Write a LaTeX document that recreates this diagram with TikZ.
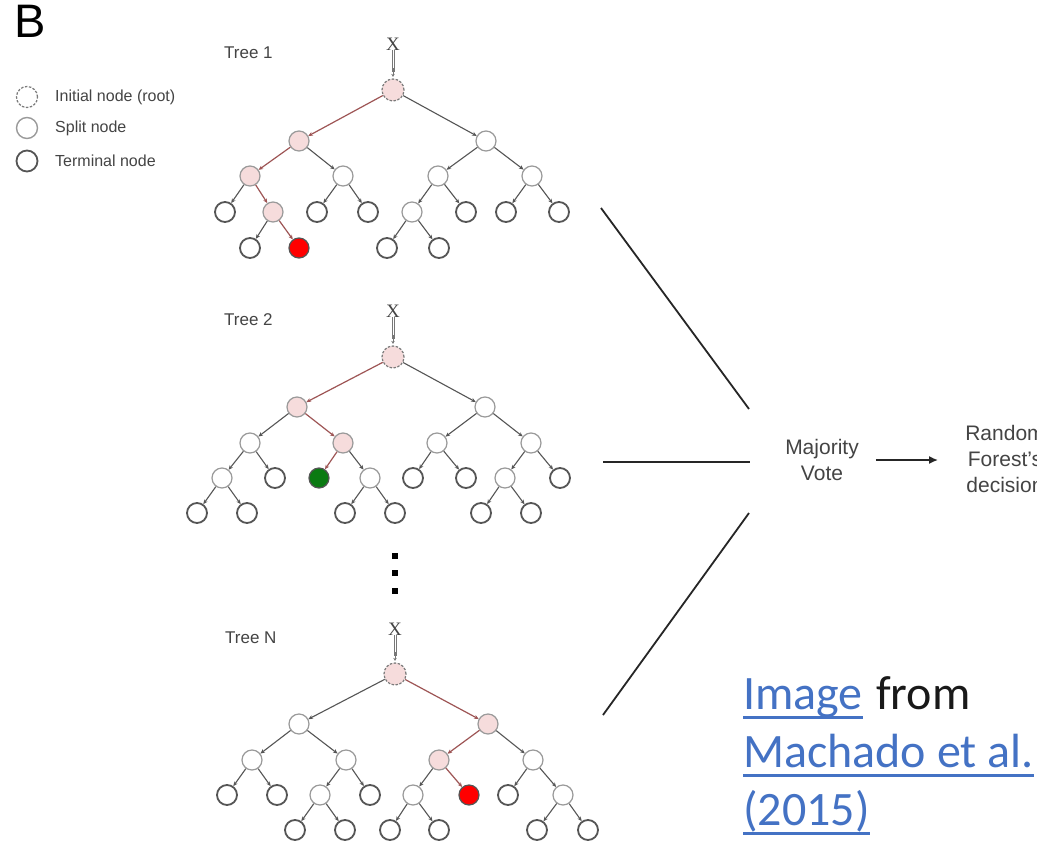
\documentclass[tikz,border=0pt]{standalone}
\usepackage{fontspec}
\setmainfont{Liberation Sans}
\newfontfamily\calib{Carlito}
\newfontfamily\serifx{Liberation Serif}
\usetikzlibrary{arrows.meta}
\definecolor{pinkc}{HTML}{F6DCDC}
\definecolor{termc}{HTML}{555555}
\definecolor{splitc}{HTML}{9A9A9A}
\definecolor{edgec}{HTML}{555555}
\definecolor{pathc}{HTML}{9E5555}
\definecolor{txtc}{HTML}{444444}
\definecolor{linkc}{HTML}{4472C4}
\definecolor{greenc}{HTML}{0B7A12}
\tikzset{
  nd/.style={circle, minimum size=20, inner sep=0, fill=white},
  term/.style={nd, draw=termc, line width=1.8},
  split/.style={nd, draw=splitc, line width=1.2},
  psplit/.style={split, fill=pinkc},
  rootn/.style={nd, minimum size=22, draw=splitc!80!black, dash pattern=on 2.5pt off 1.5pt, line width=1.2, fill=pinkc},
  redn/.style={nd, draw=termc, line width=1.2, fill=red},
  greenn/.style={nd, draw=termc, line width=1.2, fill=greenc},
  edge/.style={draw=edgec, line width=1.1, -{Stealth[length=4.5pt,width=4pt]}},
  pedge/.style={edge, draw=pathc, line width=1.2},
  xlab/.style={font=\serifx\fontsize{19}{19}\selectfont, text=txtc, inner sep=0},
  xarr/.style={draw=edgec!80, line width=0.6},
  xtip/.style={draw=edgec!80, line width=0.6, -{Stealth[length=3pt,width=3.5pt]}},
  treelab/.style={anchor=west, font=\fontsize{17}{17}\selectfont, text=txtc, inner sep=0},
  legtxt/.style={anchor=west, font=\fontsize{16}{16}\selectfont, text=txtc, inner sep=0},
  bigtxt/.style={font=\fontsize{21}{26}\selectfont, text=txtc, align=center, inner sep=0},
  credit/.style={anchor=base west, font=\calib\fontsize{48}{58}\selectfont, inner sep=0},
  uline/.style={draw=linkc, line width=3},
  vline/.style={draw=black!85, line width=1.8},
  dotsq/.style={rectangle, fill=black, minimum size=5.5, inner sep=0}
}
\newcommand\edg[2]{\draw[edge] (#1) -- (#2);}
\newcommand\pedg[2]{\draw[pedge] (#1) -- (#2);}
\newcommand\xarrow[2]{%
  \draw[xarr] ([xshift=-1.2]#1.south) -- ([xshift=-1.2,yshift=6]#2.north);
  \draw[xarr] ([xshift=1.2]#1.south) -- ([xshift=1.2,yshift=6]#2.north);
  \draw[xtip] ([yshift=10]#2.north) -- ([yshift=1.5]#2.north);}
\begin{document}
\begin{tikzpicture}[x=1pt,y=-1pt]
\clip (0,0) rectangle (1037,857);
\fill[white] (0,0) rectangle (1037,857);

% panel letter
\node[anchor=base west, font=\fontsize{47}{47}\selectfont, inner sep=0] (B) at (14,37) {B};

% legend
\node[rootn, fill=white, minimum size=21] (lg1) at (27,97) {};
\node[split, minimum size=21, line width=1.4] (lg2) at (27,128) {};
\node[term, minimum size=21] (lg3) at (27,161) {};
\node[legtxt] (lt1) at (55,97) {Initial node (root)};
\node[legtxt] (lt2) at (55,128) {Split node};
\node[legtxt] (lt3) at (55,161) {Terminal node};

% ================= Tree 1
\node[treelab] (T1) at (224,53) {Tree 1};
\node[xlab] (x1) at (393,44) {X};
\node[rootn] (t1r) at (393,90) {};
\node[psplit] (t1a) at (299,141) {};
\node[split] (t1b) at (486,141) {};
\node[psplit] (t1aa) at (250,176) {};
\node[split] (t1ab) at (343,176) {};
\node[split] (t1ba) at (438,176) {};
\node[split] (t1bb) at (532,176) {};
\node[term] (t1aaa) at (225,212) {};
\node[psplit] (t1aab) at (273,212) {};
\node[term] (t1aba) at (317,212) {};
\node[term] (t1abb) at (368,212) {};
\node[split] (t1baa) at (412,212) {};
\node[term] (t1bab) at (466,212) {};
\node[term] (t1bba) at (506,212) {};
\node[term] (t1bbb) at (559,212) {};
\node[term] (t1aaba) at (250,248) {};
\node[redn] (t1aabb) at (299,248) {};
\node[term] (t1baaa) at (387,248) {};
\node[term] (t1baab) at (439,248) {};
\xarrow{x1}{t1r}
\pedg{t1r}{t1a} \edg{t1r}{t1b}
\pedg{t1a}{t1aa} \edg{t1a}{t1ab}
\edg{t1b}{t1ba} \edg{t1b}{t1bb}
\edg{t1aa}{t1aaa} \pedg{t1aa}{t1aab}
\edg{t1ab}{t1aba} \edg{t1ab}{t1abb}
\edg{t1ba}{t1baa} \edg{t1ba}{t1bab}
\edg{t1bb}{t1bba} \edg{t1bb}{t1bbb}
\edg{t1aab}{t1aaba} \pedg{t1aab}{t1aabb}
\edg{t1baa}{t1baaa} \edg{t1baa}{t1baab}

% ================= Tree 2
\node[treelab] (T2) at (224,320) {Tree 2};
\node[xlab] (x2) at (393,311) {X};
\node[rootn] (t2r) at (393,357) {};
\node[psplit] (t2a) at (297,407) {};
\node[split] (t2b) at (485,407) {};
\node[split] (t2aa) at (250,443) {};
\node[psplit] (t2ab) at (343,443) {};
\node[split] (t2ba) at (437,443) {};
\node[split] (t2bb) at (531,443) {};
\node[split] (t2aaa) at (222,478) {};
\node[term] (t2aab) at (275,478) {};
\node[greenn] (t2aba) at (319,478) {};
\node[split] (t2abb) at (370,478) {};
\node[term] (t2baa) at (413,478) {};
\node[term] (t2bab) at (466,478) {};
\node[split] (t2bba) at (505,478) {};
\node[term] (t2bbb) at (560,478) {};
\node[term] (t2aaaa) at (197,513) {};
\node[term] (t2aaab) at (247,513) {};
\node[term] (t2abba) at (345,513) {};
\node[term] (t2abbb) at (395,513) {};
\node[term] (t2bbaa) at (481,513) {};
\node[term] (t2bbab) at (531,513) {};
\xarrow{x2}{t2r}
\pedg{t2r}{t2a} \edg{t2r}{t2b}
\edg{t2a}{t2aa} \pedg{t2a}{t2ab}
\edg{t2b}{t2ba} \edg{t2b}{t2bb}
\edg{t2aa}{t2aaa} \edg{t2aa}{t2aab}
\pedg{t2ab}{t2aba} \edg{t2ab}{t2abb}
\edg{t2ba}{t2baa} \edg{t2ba}{t2bab}
\edg{t2bb}{t2bba} \edg{t2bb}{t2bbb}
\edg{t2aaa}{t2aaaa} \edg{t2aaa}{t2aaab}
\edg{t2abb}{t2abba} \edg{t2abb}{t2abbb}
\edg{t2bba}{t2bbaa} \edg{t2bba}{t2bbab}

% dots
\node[dotsq] (d1) at (395,556) {};
\node[dotsq] (d2) at (395,573) {};
\node[dotsq] (d3) at (395,591) {};

% ================= Tree N
\node[treelab] (TN) at (225,638) {Tree N};
\node[xlab] (xN) at (395,629) {X};
\node[rootn] (tNr) at (395,674) {};
\node[split] (tNa) at (299,724) {};
\node[psplit] (tNb) at (488,724) {};
\node[split] (tNaa) at (252,760) {};
\node[split] (tNab) at (346,760) {};
\node[psplit] (tNba) at (439,760) {};
\node[split] (tNbb) at (533,760) {};
\node[term] (tNaaa) at (227,795) {};
\node[term] (tNaab) at (277,795) {};
\node[split] (tNaba) at (320,795) {};
\node[term] (tNabb) at (370,795) {};
\node[split] (tNbaa) at (413,795) {};
\node[redn] (tNbab) at (469,795) {};
\node[term] (tNbba) at (508,795) {};
\node[split] (tNbbb) at (563,795) {};
\node[term] (tNabaa) at (295,830) {};
\node[term] (tNabab) at (345,830) {};
\node[term] (tNbaaa) at (390,830) {};
\node[term] (tNbaab) at (439,830) {};
\node[term] (tNbbba) at (537,830) {};
\node[term] (tNbbbb) at (588,830) {};
\xarrow{xN}{tNr}
\edg{tNr}{tNa} \pedg{tNr}{tNb}
\edg{tNa}{tNaa} \edg{tNa}{tNab}
\pedg{tNb}{tNba} \edg{tNb}{tNbb}
\edg{tNaa}{tNaaa} \edg{tNaa}{tNaab}
\edg{tNab}{tNaba} \edg{tNab}{tNabb}
\edg{tNba}{tNbaa} \pedg{tNba}{tNbab}
\edg{tNbb}{tNbba} \edg{tNbb}{tNbbb}
\edg{tNaba}{tNabaa} \edg{tNaba}{tNabab}
\edg{tNbaa}{tNbaaa} \edg{tNbaa}{tNbaab}
\edg{tNbbb}{tNbbba} \edg{tNbbb}{tNbbbb}

% ================= majority vote
\node[bigtxt] (mv) at (822,460) {Majority\\Vote};
\node[bigtxt] (rf) at (1005,459) {Random\\Forest’s\\decision};
\coordinate (l1s) at (601,208);
\coordinate (l1e) at (749,409);
\coordinate (l2s) at (603,462);
\coordinate (l2e) at (750,462);
\coordinate (l3s) at (603,715);
\coordinate (l3e) at (749,513);
\draw[vline] (l1s) -- (l1e);
\draw[vline] (l2s) -- (l2e);
\draw[vline] (l3s) -- (l3e);
\draw[draw=black!85, line width=1.8, -{Latex[length=9pt,width=8pt]}] ([xshift=17]mv.east |- 0,460) -- ([xshift=-27]rf.west |- 0,460);

% ================= credit
\node[credit, text=linkc] (img) at (743,709) {Image};
\node[credit, text=black!90] (from) at ([xshift=13]img.base east) {from};
\node[credit, text=linkc] (mach) at (743,767) {Machado et al.};
\node[credit, text=linkc] (yr) at (743,825) {(2015)};
\draw[uline] ([yshift=-8]img.base west) -- ([yshift=-8]img.base east);
\draw[uline] ([yshift=-8]mach.base west) -- ([yshift=-8]mach.base east);
\draw[uline] ([yshift=-8]yr.base west) -- ([yshift=-8]yr.base east);
\end{tikzpicture}
\end{document}
